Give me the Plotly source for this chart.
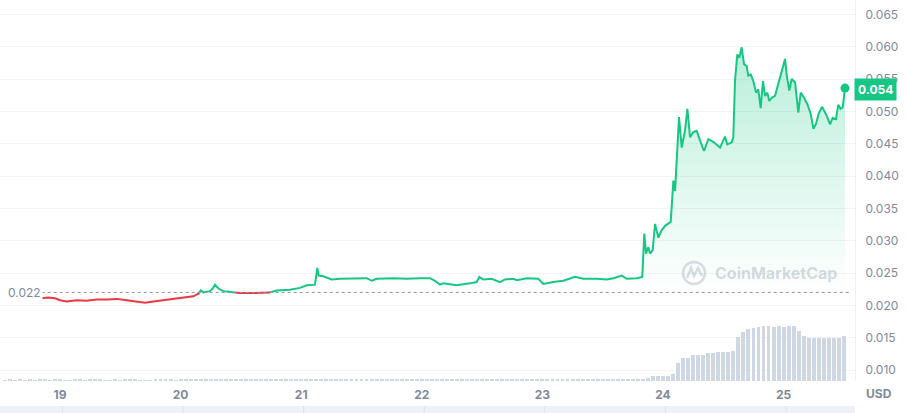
import pandas as pd
import plotly.graph_objects as go

# ---- data (day-of-month fractional time, price in USD) ----
price_days = [18.848, 18.900, 18.959, 19.000, 19.056, 19.138, 19.221, 19.304, 19.387, 19.470,
              19.553, 19.636, 19.705, 19.774, 19.857, 19.939, 20.022, 20.105, 20.147, 20.167,
              20.188, 20.244, 20.266, 20.285, 20.313, 20.354, 20.404, 20.493, 20.603, 20.741,
              20.797, 20.907, 20.990, 21.046, 21.114, 21.134, 21.145, 21.183, 21.253, 21.322,
              21.432, 21.543, 21.585, 21.626, 21.764, 21.875, 21.985, 22.068, 22.109, 22.151,
              22.178, 22.289, 22.400, 22.455, 22.477, 22.510, 22.579, 22.648, 22.690, 22.759,
              22.787, 22.870, 22.966, 23.008, 23.090, 23.174, 23.270, 23.339, 23.450, 23.533,
              23.589, 23.658, 23.699, 23.782, 23.828, 23.845, 23.859, 23.878, 23.892, 23.914,
              23.934, 23.961, 23.989, 24.017, 24.064, 24.086, 24.100, 24.114, 24.133, 24.155,
              24.182, 24.202, 24.224, 24.251, 24.279, 24.307, 24.340, 24.376, 24.417, 24.473,
              24.514, 24.533, 24.570, 24.583, 24.597, 24.616, 24.633, 24.652, 24.672, 24.694,
              24.707, 24.727, 24.749, 24.771, 24.790, 24.810, 24.829, 24.846, 24.865, 24.881,
              24.901, 24.929, 24.956, 24.984, 25.012, 25.025, 25.047, 25.067, 25.095, 25.122,
              25.142, 25.169, 25.197, 25.225, 25.247, 25.269, 25.290, 25.318, 25.351, 25.385,
              25.407, 25.434, 25.453, 25.473, 25.490, 25.509]
prices = [0.0211, 0.0212, 0.0211, 0.0208, 0.0206, 0.0208, 0.0207, 0.0209, 0.0209, 0.0210,
          0.0208, 0.0206, 0.0204, 0.0206, 0.0208, 0.0210, 0.0211, 0.0214, 0.0218, 0.0223,
          0.0220, 0.0222, 0.0226, 0.0232, 0.0226, 0.0222, 0.0221, 0.0219, 0.0219, 0.0220,
          0.0223, 0.0224, 0.0227, 0.0231, 0.0232, 0.0258, 0.0246, 0.0245, 0.0240, 0.0241,
          0.0242, 0.0242, 0.0238, 0.0241, 0.0242, 0.0241, 0.0242, 0.0242, 0.0238, 0.0232,
          0.0234, 0.0231, 0.0234, 0.0236, 0.0244, 0.0240, 0.0241, 0.0236, 0.0240, 0.0241,
          0.0239, 0.0242, 0.0241, 0.0233, 0.0236, 0.0238, 0.0244, 0.0241, 0.0241, 0.0240,
          0.0242, 0.0246, 0.0241, 0.0242, 0.0244, 0.0311, 0.0280, 0.0290, 0.0280, 0.0285,
          0.0326, 0.0305, 0.0316, 0.0323, 0.0329, 0.0393, 0.0377, 0.0429, 0.0491, 0.0444,
          0.0470, 0.0504, 0.0460, 0.0468, 0.0470, 0.0455, 0.0439, 0.0457, 0.0453, 0.0444,
          0.0461, 0.0449, 0.0452, 0.0460, 0.0547, 0.0588, 0.0583, 0.0599, 0.0573, 0.0570,
          0.0555, 0.0557, 0.0547, 0.0529, 0.0534, 0.0505, 0.0547, 0.0524, 0.0529, 0.0516,
          0.0521, 0.0524, 0.0542, 0.0563, 0.0581, 0.0557, 0.0532, 0.0550, 0.0545, 0.0498,
          0.0529, 0.0521, 0.0511, 0.0496, 0.0473, 0.0481, 0.0496, 0.0507, 0.0496, 0.0480,
          0.0490, 0.0488, 0.0510, 0.0504, 0.0506, 0.0536]

# hourly volume (thousand USD), first bar at day 18.5417
volume_start_day = 18.5417
volumes = [20, 22, 18, 24, 20, 22, 20, 24,
           24, 20, 26, 22, 20, 18, 22, 24, 20, 22, 26, 24, 20, 18, 22, 20, 24, 26, 22, 20,
           18, 20, 22, 24, 26, 22, 20, 24, 22, 26, 28, 30, 26, 24,
           30, 32, 28, 30, 34, 30, 28, 32, 30, 34, 36, 32, 30, 28, 32, 30, 34,
           40, 44, 38, 42, 40, 36, 40, 38, 42, 40, 44, 40, 38, 36, 40, 42, 38, 40, 44,
           42, 40, 38, 40, 36, 38, 40, 42, 40,
           30, 28, 26, 30, 28, 32, 30, 28, 26, 28, 30, 32, 30, 28, 26, 30, 28, 30, 32, 30, 28, 30,
           34, 36, 40, 38, 36, 34, 38, 40, 36, 38, 40, 42, 38, 36, 40, 38, 42, 44,
           50, 60, 100, 100, 100, 100, 140, 360, 460, 460, 520, 520, 520,
           560, 570, 580, 580, 580, 600, 880, 980, 1040, 1060, 1080,
           1100, 1100, 1090, 1100, 1090, 1100, 1110, 1000, 900,
           860, 860, 860, 860, 855, 860, 860, 900]

baseline_price = 0.022
last_price_label = "0.054"
tick_days = [19, 20, 21, 22, 23, 24, 25]
tick_labels = ["19", "20", "21", "22", "23", "24", "25"]
y_ticks = [0.010, 0.015, 0.020, 0.025, 0.030, 0.035, 0.040, 0.045, 0.050, 0.055, 0.060, 0.065]

# ---- helpers ----
BASE_TS = pd.Timestamp("2024-03-01")


def to_ts(d):
    if d is None:
        return None
    return BASE_TS + pd.to_timedelta(d - 1, unit="D")


GREEN = "#16C784"
RED = "#EA3943"
TXT = "#808A9D"

# split line into above/below baseline segments
green_x, green_y, red_x, red_y = [], [], [], []
fill_x, fill_y = [], []


def add(color, d, v):
    if color == "g":
        green_x.append(d); green_y.append(v)
    else:
        red_x.append(d); red_y.append(v)


prev_c = None
for i, (d, v) in enumerate(zip(price_days, prices)):
    c = "g" if v >= baseline_price else "r"
    if i > 0 and c != prev_c:
        d0, v0 = price_days[i - 1], prices[i - 1]
        dc = d0 + (baseline_price - v0) / (v - v0) * (d - d0)
        add(prev_c, dc, baseline_price)
        add(prev_c, None, None)
        add(c, dc, baseline_price)
        fill_x.append(dc); fill_y.append(baseline_price)
    add(c, d, v)
    fill_x.append(d); fill_y.append(max(v, baseline_price))
    prev_c = c

vol_days = [volume_start_day + i / 24 for i in range(len(volumes))]

x_start = 18.5025
x_end = 25.592

fig = go.Figure()

# volume bars
fig.add_trace(go.Bar(
    x=[to_ts(d) for d in vol_days], y=volumes, yaxis="y2",
    marker=dict(color="#CFD6E4", line=dict(width=0)),
    width=1000 * 3600 * 0.78, hoverinfo="skip", showlegend=False))

# fill baseline + gradient area
fig.add_trace(go.Scatter(
    x=[to_ts(d) for d in fill_x], y=[baseline_price] * len(fill_x),
    mode="lines", line=dict(width=0), hoverinfo="skip", showlegend=False))
fig.add_trace(go.Scatter(
    x=[to_ts(d) for d in fill_x], y=fill_y, mode="lines", line=dict(width=0),
    fill="tonexty",
    fillgradient=dict(type="vertical", start=baseline_price, stop=0.060,
                      colorscale=[[0, "rgba(22,199,132,0.0)"], [1, "rgba(22,199,132,0.30)"]]),
    hoverinfo="skip", showlegend=False))

# price lines
fig.add_trace(go.Scatter(
    x=[to_ts(d) for d in red_x], y=red_y, mode="lines",
    line=dict(color=RED, width=2), connectgaps=False, showlegend=False))
fig.add_trace(go.Scatter(
    x=[to_ts(d) for d in green_x], y=green_y, mode="lines",
    line=dict(color=GREEN, width=2), connectgaps=False, showlegend=False))

# last point dot
fig.add_trace(go.Scatter(
    x=[to_ts(price_days[-1])], y=[prices[-1]], mode="markers",
    marker=dict(color=GREEN, size=9), showlegend=False))

plot_h = 381.0
shapes = [
    # baseline dotted line
    dict(type="line", xref="x", yref="y", x0=to_ts(price_days[0]), x1=to_ts(x_end - 0.03),
         y0=baseline_price, y1=baseline_price,
         line=dict(color="#8A93A6", width=1, dash="dot")),
    # bottom navigator band
    dict(type="rect", xref="paper", yref="paper", x0=0, x1=1,
         y0=-(413 - plot_h) / plot_h, y1=-(406 - plot_h) / plot_h,
         fillcolor="#EEF1F8", line=dict(width=0), layer="below"),
    # watermark logo circle
    dict(type="circle", xref="paper", yref="paper",
         x0=683 / 855, x1=705 / 855, y0=(plot_h - 284) / plot_h, y1=(plot_h - 262) / plot_h,
         line=dict(color="rgba(150,158,175,0.35)", width=2.5)),
    dict(type="path", xref="paper", yref="paper",
         path="M %f %f L %f %f L %f %f L %f %f L %f %f" % (
             687 / 855, (plot_h - 278) / plot_h,
             691 / 855, (plot_h - 268) / plot_h,
             694 / 855, (plot_h - 276) / plot_h,
             698 / 855, (plot_h - 268) / plot_h,
             702 / 855, (plot_h - 276) / plot_h),
         line=dict(color="rgba(150,158,175,0.35)", width=2.5)),
]
for d in tick_days:
    shapes.append(dict(type="line", xref="x", yref="paper", x0=to_ts(d + 0.02), x1=to_ts(d + 0.02),
                       y0=-(413 - plot_h) / plot_h, y1=-(406 - plot_h) / plot_h,
                       line=dict(color="#DDE2EC", width=1)))

annotations = [
    dict(text="0.022", xref="paper", yref="y", x=0, y=baseline_price, xanchor="left",
         yanchor="middle", xshift=6, showarrow=False,
         font=dict(family="Inter", size=12, color=TXT), bgcolor="white"),
    dict(text="<b>" + last_price_label + "</b>", xref="paper", yref="y", x=1, y=prices[-1] - 0.0002,
         xanchor="left", yanchor="middle", xshift=-1, showarrow=False,
         font=dict(family="Inter", size=12, color="white"), bgcolor=GREEN,
         borderpad=3),
    dict(text="<b>USD</b>", xref="paper", yref="paper", x=1, y=-(393 - plot_h) / plot_h,
         xanchor="left", yanchor="middle", xshift=9, showarrow=False,
         font=dict(family="Inter", size=12, color=TXT)),
    dict(text="<b>CoinMarketCap</b>", xref="paper", yref="paper", x=713 / 855,
         y=(plot_h - 273) / plot_h, xanchor="left", yanchor="middle", showarrow=False,
         font=dict(family="Inter", size=16, color="rgba(150,158,175,0.4)")),
]

fig.update_layout(
    width=906, height=413,
    margin=dict(l=0, r=51, t=0, b=32),
    paper_bgcolor="white", plot_bgcolor="white",
    showlegend=False, bargap=0,
    xaxis=dict(type="date", range=[to_ts(x_start), to_ts(x_end)],
               tickvals=[to_ts(d) for d in tick_days], ticktext=tick_labels,
               showgrid=False, zeroline=False, showline=False, ticks="",
               ticklabelstandoff=5,
               tickfont=dict(family="Inter", size=12, color=TXT, weight="bold")),
    yaxis=dict(range=[0.0083, 0.06722], side="right", tickvals=y_ticks,
               tickformat=".3f", showgrid=True, gridcolor="#F2F3F6", gridwidth=1,
               zeroline=False, showline=True, linecolor="#EEF0F3", linewidth=1,
               ticks="", ticklabelstandoff=7,
               tickfont=dict(family="Inter", size=12, color=TXT)),
    yaxis2=dict(range=[0, 7620], overlaying="y", visible=False),
    shapes=shapes, annotations=annotations,
)

fig.write_html("out.html", config={"displayModeBar": False},
               post_script="document.body.style.margin='0';document.body.style.overflow='hidden';")
